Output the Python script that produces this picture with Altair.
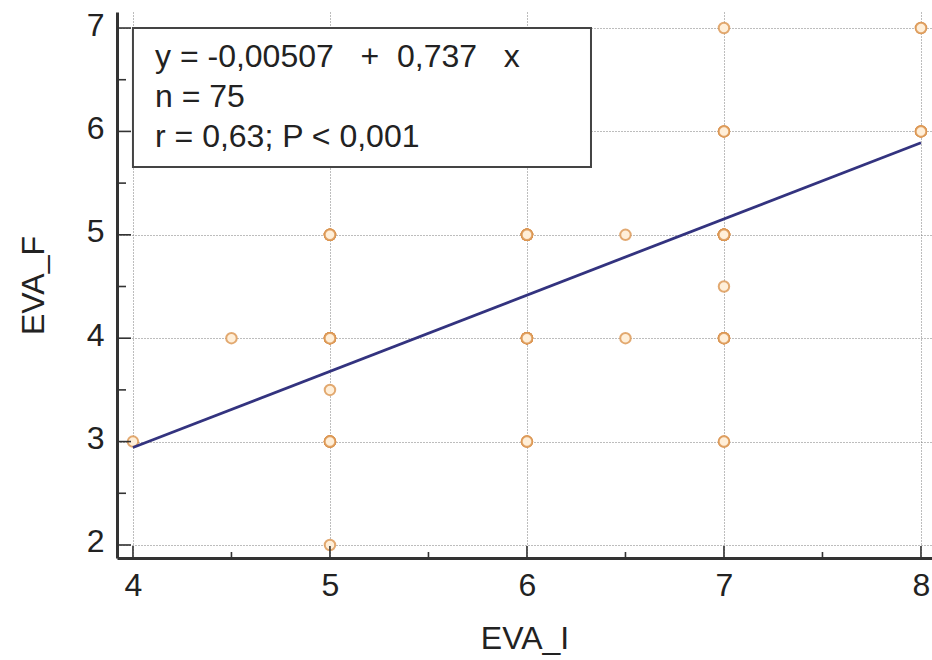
import altair as alt
import pandas as pd

# ---- data ----
x_vals = [4, 4.5, 5, 5, 5, 5, 5, 6, 6, 6, 6.5, 6.5, 7, 7, 7, 7, 7, 7, 8, 8]
y_vals = [3, 4, 5, 4, 3.5, 3, 2, 5, 4, 3, 5, 4, 7, 6, 5, 4.5, 4, 3, 7, 6]
counts = [1, 1, 6, 8, 1, 6, 1, 9, 9, 3, 1, 1, 1, 3, 10, 1, 5, 2, 2, 4]  # total n = 75

intercept = -0.00507
slope = 0.737
line_x = [4, 8]

x_ticks = [4, 5, 6, 7, 8]
x_minor = [4.5, 5.5, 6.5, 7.5]
y_ticks = [2, 3, 4, 5, 6, 7]
y_minor = [2.5, 3.5, 4.5, 5.5, 6.5]

NB = "\u00a0"
legend_lines = [
    "y = -0,00507" + NB * 3 + "+" + NB * 2 + "0,737" + NB * 3 + "x",
    "n = 75",
    "r = 0,63; P < 0,001",
]

# ---- tables ----
pts = pd.DataFrame({"x": x_vals, "y": y_vals, "n": counts})
pts = pts.loc[pts.index.repeat(pts["n"])].reset_index(drop=True)
line_df = pd.DataFrame({"x": line_x})
box_df = pd.DataFrame({"x": [4.0], "x2": [6.325], "y": [7.0], "y2": [5.656]})
xt_df = pd.DataFrame({"x": x_ticks})
xm_df = pd.DataFrame({"x": x_minor})
yt_df = pd.DataFrame({"y": y_ticks})
ym_df = pd.DataFrame({"y": y_minor})

W, H = 815, 546
FONT = "Liberation Sans"
TXT = "#222222"

xscale = alt.Scale(domain=[3.919, 8.056], nice=False, zero=False)
yscale = alt.Scale(domain=[1.874, 7.155], nice=False, zero=False)

xaxis = alt.Axis(
    values=x_ticks, grid=True, gridColor="#7a7a7a", gridDash=[1, 2], gridWidth=1,
    ticks=False, domainColor="#333333", domainWidth=3,
    labelFontSize=32, labelColor=TXT, labelPadding=12, labelFont=FONT,
    title="EVA_I", titleFontSize=32, titleFontWeight="normal", titleColor=TXT,
    titleFont=FONT, titleX=W / 2, titleY=90, titleBaseline="alphabetic",
    format="d",
)
yaxis = alt.Axis(
    values=y_ticks, grid=True, gridColor="#7a7a7a", gridDash=[1, 2], gridWidth=1,
    ticks=False, domainColor="#333333", domainWidth=3,
    labelFontSize=32, labelColor=TXT, labelPadding=13, labelFont=FONT,
    labelOffset=-3,
    title="EVA_F", titleFontSize=32, titleFontWeight="normal", titleColor=TXT,
    titleFont=FONT, titleX=-84, titleY=H / 2, titleBaseline="middle",
    titleAlign="center", titleAngle=270, format="d",
)

X = alt.X("x:Q", scale=xscale, axis=xaxis)
Y = alt.Y("y:Q", scale=yscale, axis=yaxis)

box = alt.Chart(box_df).mark_rect(fill="white", stroke="#444444", strokeWidth=2).encode(
    x=X, x2="x2:Q", y=Y, y2="y2:Q"
)

points = alt.Chart(pts).mark_point(
    shape="circle", filled=False, fill="#FFEFD9", fillOpacity=1,
    stroke="#DB9550", strokeOpacity=0.8, strokeWidth=2, size=110,
).encode(x=X, y=Y)

reg = alt.Chart(line_df).transform_calculate(
    y=f"{intercept} + {slope} * datum.x"
).mark_line(color="#33337F", strokeWidth=2.8).encode(x=X, y=Y)

tick_style = dict(color="#333333", strokeWidth=1.6)
xt = alt.Chart(xt_df).mark_rule(**tick_style).encode(
    x=X, y=alt.value(H), y2=alt.value(H - 12))
xm = alt.Chart(xm_df).mark_rule(**tick_style).encode(
    x=X, y=alt.value(H), y2=alt.value(H - 6))
yt = alt.Chart(yt_df).mark_rule(**tick_style).encode(
    y=Y, x=alt.value(0), x2=alt.value(14))
ym = alt.Chart(ym_df).mark_rule(**tick_style).encode(
    y=Y, x=alt.value(0), x2=alt.value(9))

legend_text = alt.Chart(pd.DataFrame({"k": [0]})).mark_text(
    align="left", baseline="alphabetic", fontSize=32, font=FONT, color=TXT,
    lineHeight=40,
).encode(x=alt.value(38), y=alt.value(55), text=alt.value(legend_lines))

chart = alt.layer(box, points, reg, xt, xm, yt, ym, legend_text).properties(
    width=W, height=H,
    padding={"left": 117, "top": 12, "right": 0, "bottom": 102},
    autosize=alt.AutoSizeParams(type="none"),
    background="white",
).configure_view(stroke=None)

chart.save("out.html", embed_options={"renderer": "svg", "actions": False})
